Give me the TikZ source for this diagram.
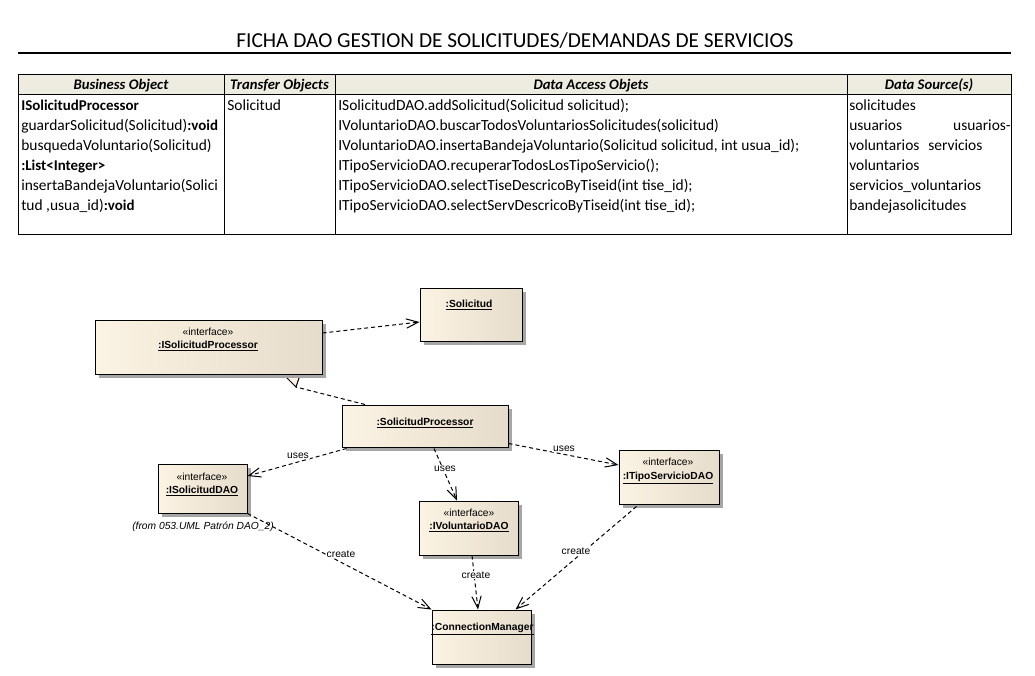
\documentclass[tikz,border=0pt]{standalone}
\usepackage{fontspec}
\setmainfont{Carlito}
\newfontfamily\umlfont{Liberation Sans}
\usetikzlibrary{arrows.meta,calc,fit,shadows}
\definecolor{hdr}{HTML}{EEECE1}
\definecolor{boxl}{HTML}{FBF3E3}
\definecolor{boxr}{HTML}{E6DCCB}
\definecolor{shd}{HTML}{A6A6A6}
\newcommand\tbf[1]{{\fontsize{11.2}{13}\selectfont\bfseries #1}}
\begin{document}
\begin{tikzpicture}[x=0.75pt,y=-0.75pt,
  cell/.style={anchor=base west,inner sep=0,font=\fontsize{11.6}{13}\selectfont},
  hd/.style={anchor=base,inner sep=0,font=\fontsize{11}{13}\selectfont\bfseries\itshape},
  umlbox/.style={draw,line width=0.75pt,inner sep=0,left color=boxl,right color=boxr,
    drop shadow={shadow xshift=3pt,shadow yshift=-3pt,fill=shd,opacity=1}},
  st/.style={anchor=base,inner sep=0,font=\umlfont\fontsize{7.7}{9}\selectfont},
  nm/.style={anchor=base,inner sep=0,font=\umlfont\bfseries\fontsize{7.7}{9}\selectfont},
  lbl/.style={anchor=base,inner sep=0.6pt,fill=white,font=\umlfont\fontsize{7.7}{9}\selectfont},
  dep/.style={line width=0.75pt,dash pattern=on 3pt off 2.25pt,-{Straight Barb[length=9pt,width=7pt]}},
  real/.style={line width=0.75pt,dash pattern=on 3pt off 2.25pt}
]
\useasboundingbox (0,0) rectangle (1035,675);
\fill[white] (0,0) rectangle (1035,675);

% title
\node[anchor=base,inner sep=0,font=\fontsize{16}{19}\selectfont] (title) at (515,47) {FICHA DAO GESTION DE SOLICITUDES/DEMANDAS DE SERVICIOS};
\draw[line width=1.5pt] (18,53) -- (1011,53);

% table
\fill[hdr] (18,74) rectangle (1011,94);
\draw[line width=0.75pt] (18,74) rectangle (1011,234);
\draw[line width=0.75pt] (18,94) -- (1011,94);
\draw[line width=0.75pt] (224,74) -- (224,234) (335,74) -- (335,234) (847,74) -- (847,234);

\node[hd] (h1) at (121,89.5) {Business Object};
\node[hd] (h2) at (279.5,89.5) {Transfer Objects};
\node[hd] (h3) at (591,89.5) {Data Access Objets};
\node[hd] (h4) at (929,89.5) {Data Source(s)};

\node[cell] (a1) at (21,110) {\tbf{ISolicitudProcessor}};
\node[cell] (a2) at (21,130) {guardarSolicitud(Solicitud)\tbf{:void}};
\node[cell] (a3) at (21,150) {busquedaVoluntario(Solicitud)};
\node[cell] (a4) at (21,170) {\tbf{:List<Integer>}};
\node[cell] (a5) at (21,190) {insertaBandejaVoluntario(Solici};
\node[cell] (a6) at (21,210) {tud ,usua\_id)\tbf{:void}};

\node[cell] (b1) at (227,110) {Solicitud};

\node[cell] (c1) at (338,110) {ISolicitudDAO.addSolicitud(Solicitud solicitud);};
\node[cell] (c2) at (338,130) {IVoluntarioDAO.buscarTodosVoluntariosSolicitudes(solicitud)};
\node[cell] (c3) at (338,150) {IVoluntarioDAO.insertaBandejaVoluntario(Solicitud solicitud, int usua\_id);};
\node[cell] (c4) at (338,170) {ITipoServicioDAO.recuperarTodosLosTipoServicio();};
\node[cell] (c5) at (338,190) {ITipoServicioDAO.selectTiseDescricoByTiseid(int tise\_id);};
\node[cell] (c6) at (338,210) {ITipoServicioDAO.selectServDescricoByTiseid(int tise\_id);};

\node[cell] (d1) at (849,110) {solicitudes};
\node[cell] (d2) at (849,130) {usuarios};
\node[cell,anchor=base east] (d2b) at (1011,130) {usuarios-};
\node[cell] (d3) at (849,150) {voluntarios};
\node[cell] (d3b) at (928,150) {servicios};
\node[cell] (d4) at (849,170) {voluntarios};
\node[cell] (d5) at (849,190) {servicios\_voluntarios};
\node[cell] (d6) at (849,210) {bandejasolicitudes};

% realization triangle (drawn before the box so the box covers its tip)
\coordinate (rt) at (296,387);
\filldraw[line width=0.75pt,fill=boxl] (284,375) -- (300,375) -- (rt) -- cycle;

% boxes
\node[umlbox,fit={(95,320)(322,374)}] (isp) {};
\node[umlbox,fit={(420,288)(522,341)}] (sol) {};
\node[umlbox,fit={(342,405)(508,447)}] (sp) {};
\node[umlbox,fit={(158,464)(247,513)}] (isd) {};
\node[umlbox,fit={(419,501)(518,555)}] (ivd) {};
\node[umlbox,fit={(619,450)(719,504)}] (itd) {};
\node[umlbox,fit={(432,610)(531,664)}] (cm) {};

% box texts
\node[st] (isp-s) at (208,335) {«interface»};
\node[nm] (isp-n) at (208,348) {\underline{:ISolicitudProcessor}};
\node[nm] (sol-n) at (469,307) {\underline{:Solicitud}};
\node[nm] (sp-n) at (425,425) {\underline{:SolicitudProcessor}};
\node[st] (isd-s) at (202,480) {«interface»};
\node[nm] (isd-n) at (202,493) {\underline{:ISolicitudDAO}};
\node[st] (ivd-s) at (469,516) {«interface»};
\node[nm] (ivd-n) at (469,529.5) {\underline{:IVoluntarioDAO}};
\node[st] (itd-s) at (668,465) {«interface»};
\node[nm] (itd-n) at (668,479) {\underline{:ITipoServicioDAO}};
\node[nm] (cm-n) at (482.5,630) {\underline{:ConnectionManager}};
\node[st,font=\umlfont\itshape\fontsize{7.7}{9}\selectfont] (from) at (203,529) {(from 053.UML Patrón DAO\_2)};

% connectors
\draw[dep] ($(isp.east)+(0,-14)$) -- ($(sol.west)+(0,7.5)$);
\draw[real] ($(sp.north)+(-60,0)$) -- (rt);
\draw[dep] ($(sp.south west)+(5,1)$) -- ($(isd.east)+(0,-12.5)$);
\draw[dep] ($(sp.south)+(9,1)$) -- ($(ivd.north)+(-11.5,0)$);
\draw[dep] ($(sp.south east)+(0,-4)$) -- ($(itd.west)+(0,-12)$);
\draw[dep] (isd.south east) -- (cm.north west);
\draw[dep] ($(ivd.south)+(3.5,0)$) -- ($(cm.north)+(-3.5,0)$);
\draw[dep] ($(itd.south west)+(18,2)$) -- ($(cm.north east)+(-16,0)$);

% labels
\node[lbl] (l1) at (298,458) {uses};
\node[lbl] (l2) at (445,471.5) {uses};
\node[lbl] (l3) at (564,451) {uses};
\node[lbl] (l4) at (341,557) {create};
\node[lbl] (l5) at (476,578.5) {create};
\node[lbl] (l6) at (576,554) {create};
\end{tikzpicture}
\end{document}
